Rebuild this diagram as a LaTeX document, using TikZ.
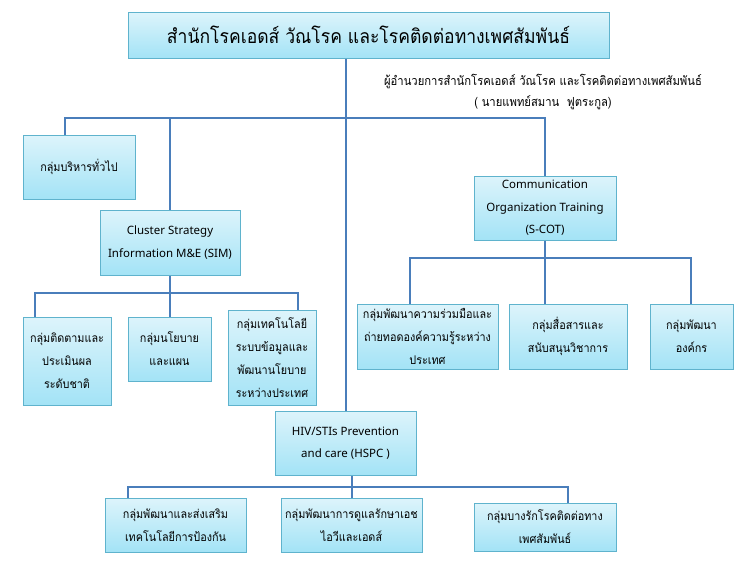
\documentclass[tikz,border=0pt]{standalone}
\usepackage{fontspec}
\setmainfont[Script=Thai, FakeStretch=0.9]{Loma}
\newfontfamily\latin{Noto Sans}
\usepackage{xcolor}
\definecolor{boxtop}{HTML}{DDF4FB}
\definecolor{boxbot}{HTML}{A3E3F6}
\definecolor{boxline}{HTML}{5FB3CD}
\definecolor{linkblue}{HTML}{4A7EBB}
\begin{document}
\begin{tikzpicture}[x=1pt,y=-1pt]
\tikzset{unit/.style={draw=boxline, line width=1pt, top color=boxtop, bottom color=boxbot,
  align=center, inner sep=0pt, font=\fontsize{12}{23}\selectfont},
  unitlat/.style={unit, font=\latin\fontsize{11.5}{22.5}\selectfont},
  link/.style={draw=linkblue, line width=2pt}}
\useasboundingbox (0,0) rectangle (750,563);
\node[unit, minimum width=481pt, minimum height=46pt, font=\fontsize{19.5}{24}\selectfont] (top) at (368.5,35) {สำนักโรคเอดส์ วัณโรค และโรคติดต่อทางเพศสัมพันธ์};
\node[align=center, inner sep=0pt, font=\fontsize{12.5}{21}\selectfont] (dir) at (543,92) {ผู้อำนวยการสำนักโรคเอดส์ วัณโรค และโรคติดต่อทางเพศสัมพันธ์\\( นายแพทย์สมาน~~ฟูตระกูล)};
\node[unit, minimum width=112pt, minimum height=64pt] (adm) at (79,167) {กลุ่มบริหารทั่วไป};
\node[unitlat, minimum width=140pt, minimum height=65pt] (sim) at (170,242.5) {Cluster Strategy\\Information M\&E (SIM)};
\node[unit, minimum width=88pt, minimum height=88pt] (sim1) at (67,361) {กลุ่มติดตามและ\\ประเมินผล\\ระดับชาติ};
\node[unit, minimum width=83pt, minimum height=64pt] (sim2) at (169.5,349) {กลุ่มนโยบาย\\และแผน};
\node[unit, minimum width=88pt, minimum height=95pt] (sim3) at (272,357.5) {กลุ่มเทคโนโลยี\\ระบบข้อมูลและ\\พัฒนานโยบาย\\ระหว่างประเทศ};
\node[unitlat, minimum width=142pt, minimum height=64pt] (scot) at (545,208) {Communication\\Organization Training\\(S-COT)};
\node[unit, minimum width=141pt, minimum height=65pt] (scot1) at (427.5,336.5) {กลุ่มพัฒนาความร่วมมือและ\\ถ่ายทอดองค์ความรู้ระหว่าง\\ประเทศ};
\node[unit, minimum width=118pt, minimum height=65pt] (scot2) at (568,336.5) {กลุ่มสื่อสารและ\\สนับสนุนวิชาการ};
\node[unit, minimum width=83pt, minimum height=65pt] (scot3) at (691.5,336.5) {กลุ่มพัฒนา\\องค์กร};
\node[unitlat, minimum width=141pt, minimum height=64pt] (hspc) at (345.5,443) {HIV/STIs Prevention\\and care (HSPC )};
\node[unit, minimum width=141pt, minimum height=54pt] (hspc1) at (175.5,525) {กลุ่มพัฒนาและส่งเสริม\\เทคโนโลยีการป้องกัน};
\node[unit, minimum width=141pt, minimum height=54pt] (hspc2) at (351.5,525) {กลุ่มพัฒนาการดูแลรักษาเอช\\ไอวีและเอดส์};
\node[unit, minimum width=142pt, minimum height=48pt] (hspc3) at (545,527) {กลุ่มบางรักโรคติดต่อทาง\\เพศสัมพันธ์};
\coordinate (t) at (346,118);
\coordinate (b1) at (65,118);
\coordinate (s1) at (35,293);
\coordinate (s3) at (298,293);
\coordinate (c1) at (410,258);
\coordinate (c3) at (691,258);
\coordinate (h1) at (128,487);
\coordinate (h3) at (568,487);
\draw[link] (top.south -| t) -- (hspc.north -| t);
\draw[link] (adm.north -| b1) -- (b1) -| (scot.north);
\draw[link] (sim.north) -- (sim.north |- b1);
\draw[link] (sim1.north -| s1) -- (s1) -- (s3) -- (sim3.north -| s3);
\draw[link] (sim.south) -- (sim.south |- sim2.north);
\draw[link] (scot1.north -| c1) -- (c1) -- (c3) -- (c3 |- scot3.north);
\draw[link] (scot.south) -- (scot.south |- scot2.north);
\draw[link] (hspc1.north -| h1) -- (h1) -- (h3) -- (hspc3.north -| h3);
\draw[link] (hspc.south -| hspc2.north) -- (hspc2.north);
\end{tikzpicture}
\end{document}
